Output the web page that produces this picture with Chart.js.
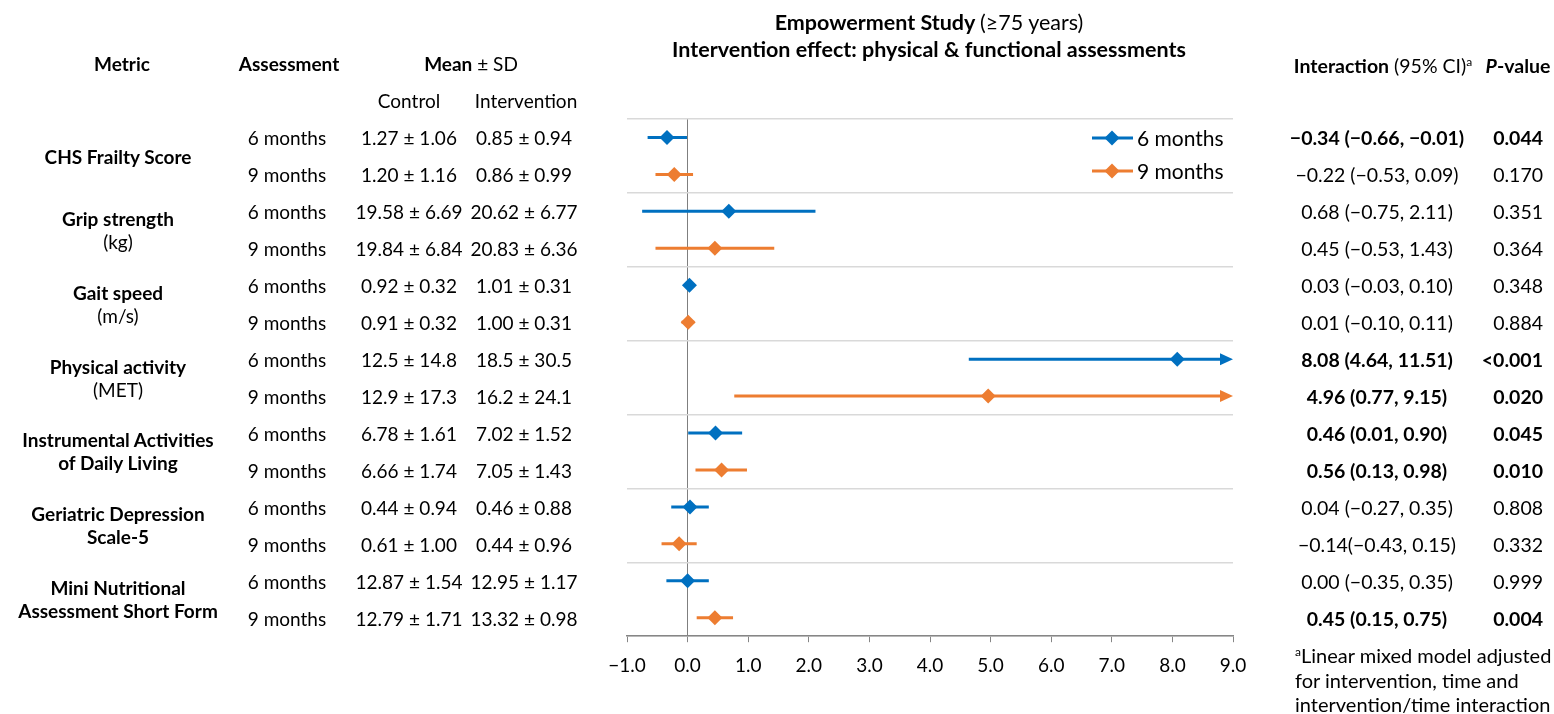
<!DOCTYPE html>
<html>
<head>
<meta charset="utf-8">
<script src="https://cdn.jsdelivr.net/npm/chart.js@4.4.1/dist/chart.umd.min.js"></script>
<style>
    body { margin: 0; width: 1554px; height: 714px; background: #fff; font-family: Lato, sans-serif; color: #000; position: relative; overflow: hidden; }
    canvas { position: absolute; left: 0; top: 0; }
    .t { position: absolute; white-space: nowrap; font-size: 19px; line-height: 23px; transform: translate(-50%, -50%); text-align: center; }
    .r { transform: translate(-100%, -50%); text-align: right; }
    .l { transform: translate(0, -50%); text-align: left; }
    .b { font-weight: bold; }
    .big { font-size: 19.5px; }
    sup { font-size: 12px; vertical-align: 7px; line-height: 0; }
</style>
</head>
<body>
<canvas id="forest" width="1554" height="714"></canvas>

<div class="t b" style="left:929px; top:22px; font-size:21.5px;">Empowerment Study <span style="font-weight:normal">(≥75 years)</span></div>
<div class="t b" style="left:929px; top:49px; font-size:21.5px;">Intervention effect: physical &amp; functional assessments</div>

<div class="t b" style="left:122px; top:63px;">Metric</div>
<div class="t b" style="left:289px; top:63px;">Assessment</div>
<div class="t" style="left:471px; top:63px;"><b>Mean</b> ± SD</div>
<div class="t" style="left:409px; top:100px;">Control</div>
<div class="t" style="left:526px; top:100px;">Intervention</div>
<div class="t big" style="left:1383px; top:65px;"><b>Interaction</b> (95% CI)<sup>a</sup></div>
<div class="t b big" style="left:1518px; top:65px;"><i>P</i>-value</div>

<div class="t l" style="left:1295px; top:680px; font-size:20px; line-height:24.5px;"><sup>a</sup>Linear mixed model adjusted<br>for intervention, time and<br>intervention/time interaction</div>

<script>
// metrics (one group = 6 and 9 months)
const metricNames = ["CHS Frailty Score", "Grip strength", "Gait speed", "Physical activity",
    "Instrumental Activities\nof Daily Living", "Geriatric Depression\nScale-5", "Mini Nutritional\nAssessment Short Form"];
const metricUnits = ["", "(kg)", "(m/s)", "(MET)", "", "", ""];
const timepoints = ["6 months", "9 months"];

// mean ± SD per row (6m, 9m for each metric)
const controlMean = ["1.27 ± 1.06", "1.20 ± 1.16", "19.58 ± 6.69", "19.84 ± 6.84", "0.92 ± 0.32", "0.91 ± 0.32",
    "12.5 ± 14.8", "12.9 ± 17.3", "6.78 ± 1.61", "6.66 ± 1.74", "0.44 ± 0.94", "0.61 ± 1.00", "12.87 ± 1.54", "12.79 ± 1.71"];
const interventionMean = ["0.85 ± 0.94", "0.86 ± 0.99", "20.62 ± 6.77", "20.83 ± 6.36", "1.01 ± 0.31", "1.00 ± 0.31",
    "18.5 ± 30.5", "16.2 ± 24.1", "7.02 ± 1.52", "7.05 ± 1.43", "0.46 ± 0.88", "0.44 ± 0.96", "12.95 ± 1.17", "13.32 ± 0.98"];

// interaction estimates
const est6 = [-0.34, 0.68, 0.03, 8.08, 0.46, 0.04, 0.00];
const lo6 = [-0.66, -0.75, -0.03, 4.64, 0.01, -0.27, -0.35];
const hi6 = [-0.01, 2.11, 0.10, 11.51, 0.90, 0.35, 0.35];
const est9 = [-0.22, 0.45, 0.01, 4.96, 0.56, -0.14, 0.45];
const lo9 = [-0.53, -0.53, -0.10, 0.77, 0.13, -0.43, 0.15];
const hi9 = [0.09, 1.43, 0.11, 9.15, 0.98, 0.15, 0.75];

const ciLabels = ["−0.34 (−0.66, −0.01)", "−0.22 (−0.53, 0.09)", "0.68 (−0.75, 2.11)", "0.45 (−0.53, 1.43)",
    "0.03 (−0.03, 0.10)", "0.01 (−0.10, 0.11)", "8.08 (4.64, 11.51)", "4.96 (0.77, 9.15)",
    "0.46 (0.01, 0.90)", "0.56 (0.13, 0.98)", "0.04 (−0.27, 0.35)", "−0.14(−0.43, 0.15)",
    "0.00 (−0.35, 0.35)", "0.45 (0.15, 0.75)"];
const pValues = ["0.044", "0.170", "0.351", "0.364", "0.348", "0.884", "<0.001", "0.020",
    "0.045", "0.010", "0.808", "0.332", "0.999", "0.004"];
const significant = [true, false, false, false, false, false, true, true, true, true, false, false, false, true];

const xTicksMin = -1, xTicksMax = 9;

const blue = "#0070C0";
const orange = "#ED7D31";

// draws the CI whiskers (with arrow if cut off) under the diamonds
const ciPlugin = {
    id: "ciLines",
    beforeDatasetsDraw(chart) {
        const ctx = chart.ctx;
        const xs = chart.scales.x, ys = chart.scales.y;
        chart.data.datasets.forEach(ds => {
            ds.data.forEach((pt, i) => {
                let lo = ds.ciLo[i], hi = ds.ciHi[i];
                const cut = hi > xs.max;
                const x1 = xs.getPixelForValue(Math.max(lo, xs.min));
                const x2 = xs.getPixelForValue(Math.min(hi, xs.max));
                const y = ys.getPixelForValue(pt.y);
                ctx.save();
                ctx.strokeStyle = ds.borderColor;
                ctx.lineWidth = 3;
                ctx.beginPath();
                ctx.moveTo(x1, y);
                ctx.lineTo(cut ? x2 - 8 : x2, y);
                ctx.stroke();
                if (cut) {
                    ctx.fillStyle = ds.borderColor;
                    ctx.beginPath();
                    ctx.moveTo(x2, y);
                    ctx.lineTo(x2 - 13, y - 6);
                    ctx.lineTo(x2 - 13, y + 6);
                    ctx.closePath();
                    ctx.fill();
                }
                ctx.restore();
            });
        });
    },
    afterDraw(chart) {
        // legend inside the plot, top right
        const ctx = chart.ctx;
        const area = chart.chartArea;
        chart.data.datasets.forEach((ds, k) => {
            const y = area.top + 19 + k * 33;
            const x0 = area.right - 141;
            ctx.save();
            ctx.strokeStyle = ds.borderColor;
            ctx.fillStyle = ds.borderColor;
            ctx.lineWidth = 3;
            ctx.beginPath();
            ctx.moveTo(x0, y);
            ctx.lineTo(x0 + 41, y);
            ctx.stroke();
            ctx.beginPath();
            ctx.moveTo(x0 + 20, y - 7.5);
            ctx.lineTo(x0 + 27.5, y);
            ctx.lineTo(x0 + 20, y + 7.5);
            ctx.lineTo(x0 + 12.5, y);
            ctx.closePath();
            ctx.fill();
            ctx.fillStyle = "#000";
            ctx.font = "21px Lato";
            ctx.textBaseline = "middle";
            ctx.fillText(ds.label, x0 + 45, y + 1);
            ctx.restore();
        });
    }
};

const ds6 = est6.map((v, i) => ({ x: v, y: 2 * i + 0.5 }));
const ds9 = est9.map((v, i) => ({ x: v, y: 2 * i + 1.5 }));

const chart = new Chart(document.getElementById("forest"), {
    type: "scatter",
    data: {
        datasets: [
            { label: timepoints[0], data: ds6, ciLo: lo6, ciHi: hi6, backgroundColor: blue, borderColor: blue,
              pointStyle: "rectRot", pointRadius: 7.5, pointBorderWidth: 0 },
            { label: timepoints[1], data: ds9, ciLo: lo9, ciHi: hi9, backgroundColor: orange, borderColor: orange,
              pointStyle: "rectRot", pointRadius: 7.5, pointBorderWidth: 0 }
        ]
    },
    options: {
        responsive: false,
        animation: false,
        devicePixelRatio: 1,
        layout: { padding: { left: 627, right: 321, top: 119, bottom: 25 } },
        plugins: { legend: { display: false }, tooltip: { enabled: false } },
        scales: {
            x: {
                type: "linear",
                min: xTicksMin,
                max: xTicksMax,
                ticks: {
                    stepSize: 1,
                    padding: 12,
                    color: "#000",
                    font: { family: "Lato", size: 19 },
                    callback: v => v.toFixed(1).replace("-", "−")
                },
                grid: {
                    color: c => (c.tick && c.tick.value === 0 ? "#7f7f7f" : "rgba(0,0,0,0)"),
                    tickColor: "#868686",
                    tickLength: 6,
                    lineWidth: 1
                },
                border: { color: "#868686", width: 1.5 }
            },
            y: {
                type: "linear",
                min: 0,
                max: 14,
                reverse: true,
                ticks: { display: false, stepSize: 2 },
                grid: { color: "#d9d9d9", lineWidth: 1.5, drawTicks: false },
                border: { display: false }
            }
        }
    },
    plugins: [ciPlugin]
});

// table text next to the plot, aligned to the y scale
function addText(html, x, y, cls) {
    const d = document.createElement("div");
    d.className = "t " + (cls || "");
    d.style.left = x + "px";
    d.style.top = y + "px";
    d.innerHTML = html;
    document.body.appendChild(d);
}

const yScale = chart.scales.y;
metricNames.forEach((name, g) => {
    const yc = yScale.getPixelForValue(2 * g + 1);
    let html = "<b>" + name.replace("\n", "<br>") + "</b>";
    if (metricUnits[g]) html += "<br>" + metricUnits[g];
    addText(html, 118, yc, "");
});
controlMean.forEach((txt, r) => {
    const y = yScale.getPixelForValue(r + 0.5);
    addText(timepoints[r % 2], 287, y);
    addText(txt, 409, y);
    addText(interventionMean[r], 524, y);
    addText(ciLabels[r], 1377, y, significant[r] ? "big b" : "big");
    addText(pValues[r], 1543, y, significant[r] ? "big r b" : "big r");
});
</script>
</body>
</html>
